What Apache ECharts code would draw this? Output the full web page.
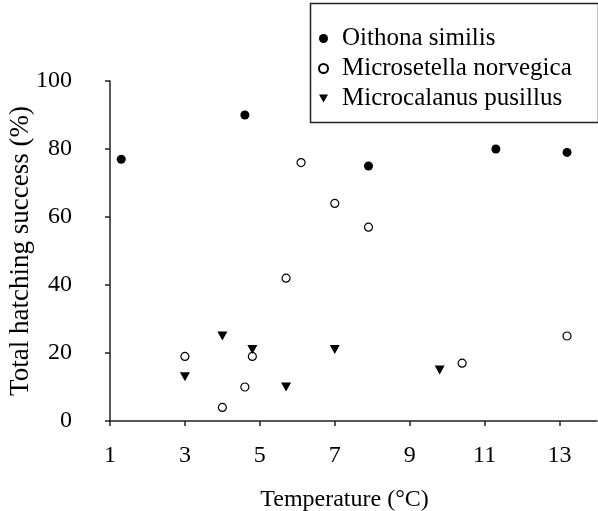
<!DOCTYPE html>
<html>
<head>
<meta charset="utf-8">
<script src="https://cdn.jsdelivr.net/npm/echarts@6/dist/echarts.min.js"></script>
<style>
html,body{margin:0;padding:0;background:#fff;}
#chart{width:598px;height:511px;}
</style>
</head>
<body>
<div id="chart"></div>
<script>
const seriesNames = ['Oithona similis', 'Microsetella norvegica', 'Microcalanus pusillus'];
const oithonaTemp = [1.3, 4.6, 7.9, 11.3, 13.2];
const oithonaHatch = [77, 90, 75, 80, 79];
const microsetellaTemp = [3.0, 4.0, 4.6, 4.8, 5.7, 6.1, 7.0, 7.9, 10.4, 13.2];
const microsetellaHatch = [19, 4, 10, 19, 42, 76, 64, 57, 17, 25];
const microcalanusTemp = [3.0, 4.0, 4.8, 5.7, 7.0, 9.8];
const microcalanusHatch = [13, 25, 21, 10, 21, 15];
const xTicks = [1, 3, 5, 7, 9, 11, 13];
const yTicks = [0, 20, 40, 60, 80, 100];
const xTitle = 'Temperature (°C)';
const yTitle = 'Total hatching success (%)';

const pair = (xs, ys) => xs.map((x, i) => [x, ys[i]]);
const font = 'Liberation Serif';
const downTriangle = 'path://M0,0 L10,0 L5,9 Z';
const chart = echarts.init(document.getElementById('chart'), null, {renderer: 'canvas'});
const axisCommon = {
  axisLine: {show: true, lineStyle: {color: '#222', width: 1.5}},
  axisTick: {show: true, length: 5, lineStyle: {color: '#222', width: 1.5}},
  splitLine: {show: false},
};
chart.setOption({
  animation: false,
  backgroundColor: '#fff',
  grid: {left: 110, right: 1, top: 81, bottom: 90, containLabel: false, outerBoundsMode: 'none'},
  graphic: [{
    type: 'rect', left: 308, top: 1, shape: {width: 288, height: 119},
    style: {fill: 'none', stroke: '#222', lineWidth: 1.5}, z: 10
  }],
  legend: {
    orient: 'vertical', left: 313, top: 21, itemGap: 5,
    itemWidth: 9, itemHeight: 9,
    textStyle: {fontFamily: font, fontSize: 25, color: '#000', padding: [0, 0, 0, 9]},
    data: [
      {name: seriesNames[0], icon: 'circle'},
      {name: seriesNames[1], icon: 'circle'},
      {name: seriesNames[2], icon: downTriangle}
    ]
  },
  xAxis: Object.assign({}, axisCommon, {
    type: 'value', min: 1, max: 14,
    axisTick: Object.assign({}, axisCommon.axisTick, {customValues: xTicks}),
    axisLabel: {customValues: xTicks, margin: 23, fontFamily: font, fontSize: 24, color: '#000'},
    name: xTitle, nameLocation: 'middle', nameGap: 67, nameMoveOverlap: false,
    nameTextStyle: {fontFamily: font, fontSize: 24, color: '#000', padding: [0, 18, 0, 0]}
  }),
  yAxis: Object.assign({}, axisCommon, {
    type: 'value', min: 0, max: 100, interval: 20,
    axisLabel: {margin: 38, fontFamily: font, fontSize: 24, color: '#000'},
    name: yTitle, nameLocation: 'middle', nameGap: 76, nameMoveOverlap: false,
    nameTextStyle: {fontFamily: font, fontSize: 27, color: '#000'}
  }),
  series: [
    {name: seriesNames[0], type: 'scatter', symbol: 'circle', symbolSize: 9,
     itemStyle: {color: '#000', opacity: 1}, data: pair(oithonaTemp, oithonaHatch)},
    {name: seriesNames[1], type: 'scatter', symbol: 'circle', symbolSize: 8,
     itemStyle: {color: '#fff', borderColor: '#000', borderWidth: 1.2, opacity: 1}, data: pair(microsetellaTemp, microsetellaHatch)},
    {name: seriesNames[2], type: 'scatter', symbol: 'triangle', symbolRotate: 180, symbolSize: [10, 9],
     itemStyle: {color: '#000', opacity: 1}, data: pair(microcalanusTemp, microcalanusHatch)}
  ]
});
</script>
</body>
</html>
